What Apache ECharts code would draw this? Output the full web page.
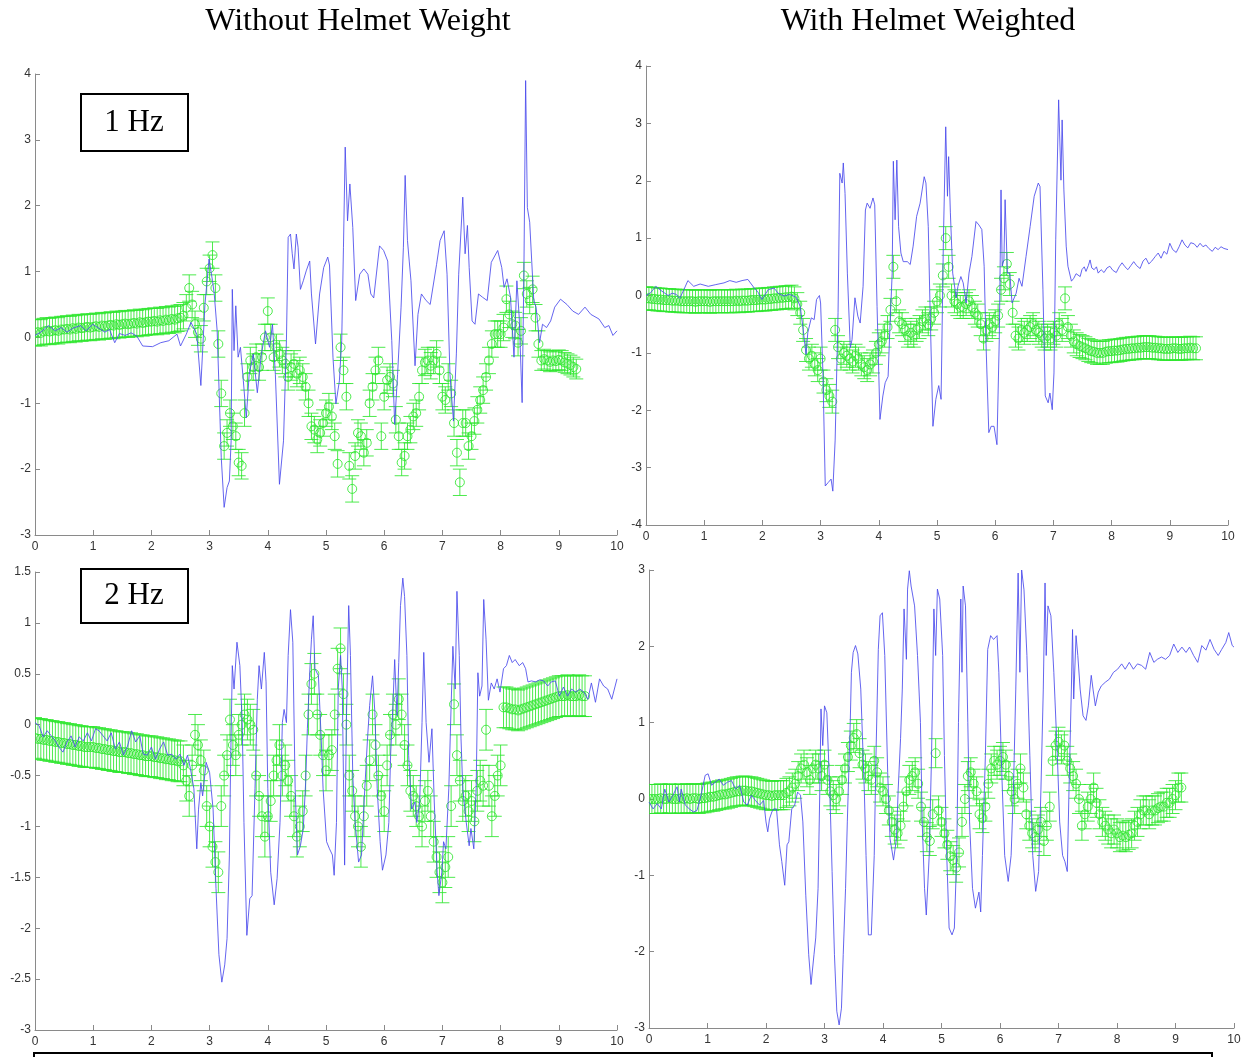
<!DOCTYPE html>
<html><head><meta charset="utf-8">
<script src="https://cdn.jsdelivr.net/npm/echarts@6/dist/echarts.min.js"></script>
<style>html,body{margin:0;padding:0;background:#fff}#c{width:1248px;height:1057px}</style>
</head><body><div id="c"></div>
<script>
// ---------- DATA ----------
const columnTitles = ['Without Helmet Weight', 'With Helmet Weighted'];
const rowLabels = ['1 Hz', '2 Hz'];
const xRange = [0, 10, 1];
const yRanges = [[-3, 4, 1], [-4, 4, 1], [-3, 1.5, 0.5], [-3, 3, 1]];
const greenStep = 0.05; // sampling interval of the mean/error-bar series (s)

// Panel 1: 1 Hz, without helmet weight
const p1Blue = [[0,0.03],[0.1,0.08],[0.23,0.18],[0.35,0.1],[0.45,0.15],[0.55,0.08],[0.65,0.14],[0.78,0.18],[0.88,0.1],[0.99,0.2],[1.08,0.15],[1.2,0.08],[1.28,0.12],[1.37,-0.08],[1.45,0.06],[1.55,0.03],[1.65,0.07],[1.75,0.02],[1.85,-0.13],[2.02,-0.14],[2.16,-0.08],[2.3,-0.05],[2.44,0.05],[2.5,-0.13],[2.6,0.05],[2.68,0.23],[2.78,0.05],[2.85,-0.73],[2.92,0.5],[2.99,1.19],[3.05,0.86],[3.08,0.66],[3.13,0.1],[3.2,-1.82],[3.25,-2.58],[3.3,-2.28],[3.34,-2.18],[3.37,-1.57],[3.39,0.73],[3.42,-0.2],[3.45,0.48],[3.49,-0.3],[3.53,-0.15],[3.58,-0.66],[3.63,-1.22],[3.68,-0.56],[3.75,-0.25],[3.82,-0.84],[3.89,-0.25],[3.96,0.1],[4.03,-0.15],[4.08,0.2],[4.13,-0.56],[4.2,-2.23],[4.27,-1.57],[4.32,-0.05],[4.35,1.52],[4.39,1.57],[4.42,1.27],[4.45,1.04],[4.49,1.57],[4.52,1.37],[4.56,0.73],[4.61,0.86],[4.66,1.01],[4.72,1.16],[4.75,0.66],[4.82,-0.1],[4.89,0.66],[4.96,1.06],[5.03,1.22],[5.06,1.1],[5.12,-0.3],[5.17,-1.01],[5.23,-0.66],[5.27,-0.05],[5.3,1.37],[5.33,2.89],[5.37,1.77],[5.41,2.33],[5.46,1.67],[5.51,0.56],[5.58,0.96],[5.65,1.04],[5.72,0.96],[5.77,0.66],[5.82,0.6],[5.92,1.39],[5.99,1.32],[6.06,1.16],[6.13,-0.05],[6.18,-1.32],[6.23,-0.56],[6.29,0.46],[6.33,1.37],[6.36,2.46],[6.4,1.47],[6.43,1.16],[6.46,0.86],[6.53,-0.43],[6.58,0.35],[6.64,0.66],[6.72,0.56],[6.79,0.5],[6.9,1.11],[6.96,1.47],[7.03,1.62],[7.08,0.96],[7.13,-0.56],[7.19,-1.27],[7.24,-0.25],[7.28,0.96],[7.35,2.13],[7.39,1.27],[7.43,1.7],[7.46,1.06],[7.51,0.25],[7.56,0.2],[7.62,0.66],[7.69,0.61],[7.77,0.56],[7.84,1.14],[7.95,1.32],[8.02,1.06],[8.06,0.76],[8.11,0.89],[8.17,0.61],[8.23,-0.3],[8.28,0.86],[8.32,0.3],[8.37,-0.99],[8.4,0.96],[8.43,3.9],[8.46,1.97],[8.5,1.75],[8.52,1.77],[8.57,0.56],[8.61,0.46],[8.67,-0.08],[8.72,0.2],[8.79,0.15],[8.86,0.25],[8.93,0.46],[9.03,0.58],[9.14,0.5],[9.24,0.4],[9.34,0.35],[9.45,0.46],[9.55,0.35],[9.69,0.28],[9.79,0.15],[9.86,0.18],[9.93,0.03],[10,0.1]];
const p1GreenMean = [0.07,0.08,0.07,0.09,0.10,0.09,0.10,0.11,0.10,0.12,
0.12,0.13,0.12,0.14,0.13,0.15,0.14,0.15,0.16,0.15,
0.16,0.17,0.16,0.18,0.17,0.18,0.19,0.18,0.20,0.19,
0.20,0.21,0.20,0.21,0.22,0.21,0.23,0.22,0.23,0.24,
0.24,0.25,0.24,0.26,0.25,0.27,0.26,0.28,0.27,0.29,
0.30,0.33,
0.45,0.75,0.5,0.2,0.08,-0.02,0.45,0.85,1.05,1.25,
0.75,-0.1,-0.85,-1.65,-1.45,-1.15,-1.35,-1.5,-1.9,-1.95,
-1.15,-0.6,-0.35,-0.45,-0.3,-0.45,-0.3,0.0,0.4,0.0,
-0.3,-0.15,-0.25,-0.35,-0.4,-0.6,-0.45,-0.4,-0.55,-0.5,
-0.6,-0.75,-1.0,-1.35,-1.4,-1.55,-1.45,-1.3,-1.15,-1.05,
-1.2,-1.5,-1.92,-0.15,-0.5,-0.9,-1.95,-2.3,-1.8,-1.45,
-1.5,-1.75,-1.6,-1.0,-0.75,-0.5,-0.35,-1.5,-0.9,-0.65,
-0.6,-0.7,-1.25,-1.5,-1.9,-1.8,-1.5,-1.4,-1.2,-1.15,
-0.9,-0.5,-0.38,-0.35,-0.43,-0.35,-0.25,-0.5,-0.9,-0.95,
-0.6,-0.85,-1.3,-1.75,-2.2,-1.3,-1.3,-1.65,-1.5,-1.27,
-1.1,-0.95,-0.8,-0.6,-0.35,-0.1,0.05,0.05,0.05,0.15,
0.58,0.35,0.2,0.18,-0.08,0.1,0.94,0.66,0.56,0.73,
0.3,-0.1,-0.35,-0.33,-0.35,-0.37,-0.35,-0.36,-0.34,-0.35,
-0.38,-0.4,-0.42,-0.45,-0.48];
const p1GreenErr = [[0, 0.2], [8.7, 0.15]];

// Panel 2: 1 Hz, with helmet weighted
const p2Blue = [[0,0.0],[0.08,0.05],[0.17,0.16],[0.24,0.1],[0.31,0.05],[0.38,0.0],[0.45,0.04],[0.52,0.02],[0.58,-0.05],[0.65,0.1],[0.72,0.26],[0.82,0.16],[0.93,0.2],[1.07,0.16],[1.2,0.19],[1.34,0.22],[1.44,0.26],[1.55,0.23],[1.65,0.26],[1.75,0.28],[1.86,0.13],[1.93,0.05],[1.99,-0.07],[2.1,0.1],[2.2,0.13],[2.27,0.04],[2.37,-0.01],[2.47,0.02],[2.58,-0.03],[2.65,-0.19],[2.7,-0.59],[2.75,-1.03],[2.78,-0.65],[2.84,-0.39],[2.89,-0.42],[2.93,-0.07],[2.98,0.0],[3.0,-0.13],[3.04,-1.35],[3.08,-3.32],[3.13,-3.26],[3.18,-3.2],[3.21,-3.41],[3.25,-2.52],[3.3,-0.3],[3.33,2.13],[3.37,1.96],[3.39,2.31],[3.42,1.78],[3.46,0.39],[3.51,-0.91],[3.54,-0.77],[3.59,-0.04],[3.64,-0.36],[3.68,-0.48],[3.73,0.16],[3.77,1.49],[3.8,1.61],[3.85,1.52],[3.9,1.7],[3.93,1.58],[3.97,-0.19],[4.02,-2.16],[4.07,-1.75],[4.11,-1.52],[4.16,-1.41],[4.19,-0.59],[4.23,0.39],[4.25,2.34],[4.28,1.32],[4.31,2.36],[4.34,1.2],[4.38,0.74],[4.42,0.59],[4.49,0.59],[4.54,0.54],[4.59,0.86],[4.65,1.38],[4.71,1.61],[4.78,2.07],[4.81,1.96],[4.85,1.2],[4.88,-0.19],[4.93,-2.28],[4.98,-1.81],[5.03,-1.57],[5.07,-1.81],[5.11,0.97],[5.15,2.94],[5.18,1.73],[5.2,2.42],[5.23,1.44],[5.27,0.39],[5.33,-0.04],[5.36,0.16],[5.41,0.33],[5.45,0.22],[5.5,-0.13],[5.55,0.39],[5.6,0.68],[5.67,1.29],[5.72,1.23],[5.77,1.15],[5.81,0.51],[5.84,-0.77],[5.89,-2.39],[5.93,-2.28],[5.98,-2.28],[6.03,-2.6],[6.07,-0.77],[6.1,1.84],[6.12,0.51],[6.15,0.62],[6.17,1.67],[6.21,0.39],[6.25,0.39],[6.29,-0.13],[6.36,0.04],[6.41,0.3],[6.46,0.16],[6.53,0.68],[6.6,1.2],[6.67,1.73],[6.74,1.96],[6.77,1.9],[6.82,0.1],[6.86,-1.75],[6.91,-1.87],[6.94,-1.7],[6.98,-1.99],[7.01,-1.35],[7.04,0.97],[7.09,3.41],[7.11,2.71],[7.13,2.01],[7.15,3.06],[7.18,1.84],[7.22,0.86],[7.25,0.51],[7.31,0.25],[7.35,0.3],[7.39,0.38],[7.42,0.4],[7.46,0.33],[7.49,0.45],[7.53,0.5],[7.56,0.42],[7.6,0.52],[7.63,0.62],[7.66,0.48],[7.7,0.45],[7.74,0.5],[7.77,0.39],[7.82,0.45],[7.87,0.4],[7.92,0.48],[7.97,0.51],[8.02,0.44],[8.08,0.4],[8.13,0.5],[8.18,0.57],[8.23,0.5],[8.28,0.45],[8.33,0.52],[8.38,0.59],[8.43,0.52],[8.49,0.47],[8.54,0.6],[8.59,0.65],[8.64,0.55],[8.69,0.6],[8.75,0.68],[8.8,0.74],[8.85,0.65],[8.9,0.77],[8.95,0.72],[9.0,0.91],[9.05,0.8],[9.11,0.75],[9.16,0.85],[9.21,0.97],[9.26,0.88],[9.31,0.83],[9.36,0.92],[9.42,0.9],[9.47,0.84],[9.52,0.91],[9.57,0.85],[9.62,0.88],[9.67,0.82],[9.73,0.77],[9.78,0.84],[9.83,0.8],[9.88,0.85],[9.93,0.82],[10,0.8]];
const p2GreenMean = [-0.05,-0.05,-0.06,-0.06,-0.07,-0.07,-0.08,-0.08,-0.08,-0.09,
-0.09,-0.09,-0.10,-0.10,-0.10,-0.10,-0.10,-0.11,-0.10,-0.10,
-0.10,-0.10,-0.11,-0.10,-0.10,-0.10,-0.10,-0.10,-0.10,-0.10,
-0.10,-0.09,-0.10,-0.09,-0.09,-0.09,-0.08,-0.08,-0.08,-0.07,
-0.07,-0.07,-0.06,-0.06,-0.05,-0.05,-0.04,-0.04,-0.03,-0.03,
-0.02,-0.05,
-0.15,-0.3,-0.6,-0.95,-1.1,-1.05,-1.2,-1.3,-1.1,-1.5,
-1.65,-1.75,-1.85,-0.6,-0.9,-1.1,-1.0,-1.05,-1.1,-1.15,
-1.05,-1.1,-1.2,-1.25,-1.3,-1.2,-1.15,-1.0,-0.85,-0.8,
-0.7,-0.55,-0.25,0.5,-0.1,-0.45,-0.5,-0.6,-0.7,-0.65,
-0.7,-0.6,-0.55,-0.45,-0.4,-0.5,-0.4,-0.3,-0.1,0.0,
0.35,1.0,0.5,0.0,-0.1,-0.15,-0.2,-0.2,-0.15,-0.1,
-0.2,-0.3,-0.35,-0.5,-0.75,-0.6,-0.5,-0.55,-0.45,-0.35,
0.1,0.3,0.55,0.2,-0.3,-0.7,-0.75,-0.6,-0.65,-0.6,
-0.55,-0.5,-0.6,-0.65,-0.7,-0.75,-0.7,-0.75,-0.65,-0.7,
-0.5,-0.6,-0.05,-0.55,-0.7,-0.8,-0.85,-0.88,-0.9,-0.92,
-0.95,-0.97,-0.98,-1.0,-1.0,-1.0,-0.98,-0.97,-0.97,-0.96,
-0.96,-0.95,-0.94,-0.93,-0.93,-0.92,-0.92,-0.91,-0.91,-0.9,
-0.9,-0.9,-0.91,-0.91,-0.92,-0.92,-0.93,-0.93,-0.93,-0.92,
-0.92,-0.93,-0.93,-0.92,-0.92,-0.91,-0.92,-0.92];
const p2GreenErr = [[0, 0.2]];

// Panel 3: 2 Hz, without helmet weight
const p3Blue = [[0,0.02],[0.07,-0.01],[0.14,-0.12],[0.21,-0.06],[0.28,-0.11],[0.35,-0.16],[0.41,-0.22],[0.48,-0.27],[0.55,-0.17],[0.62,-0.11],[0.69,-0.22],[0.76,-0.12],[0.83,-0.16],[0.9,-0.08],[0.97,-0.16],[1.04,-0.04],[1.1,-0.06],[1.17,-0.11],[1.24,-0.16],[1.31,-0.08],[1.38,-0.24],[1.45,-0.17],[1.52,-0.3],[1.59,-0.21],[1.66,-0.06],[1.73,-0.17],[1.8,-0.11],[1.86,-0.29],[1.93,-0.3],[2.0,-0.22],[2.07,-0.34],[2.14,-0.24],[2.21,-0.17],[2.28,-0.3],[2.35,-0.29],[2.42,-0.34],[2.49,-0.29],[2.56,-0.4],[2.62,-0.3],[2.67,-0.43],[2.73,-0.63],[2.78,-1.22],[2.81,-0.83],[2.85,-0.57],[2.88,-0.7],[2.94,-0.37],[3.0,-0.47],[3.06,-0.83],[3.11,-1.61],[3.16,-2.26],[3.21,-2.53],[3.26,-2.36],[3.3,-2.1],[3.34,-1.29],[3.36,-0.43],[3.39,0.58],[3.42,0.35],[3.47,0.81],[3.52,0.58],[3.56,0.02],[3.59,-0.96],[3.64,-2.07],[3.69,-1.71],[3.73,-1.68],[3.78,-0.63],[3.82,0.25],[3.85,0.58],[3.89,0.35],[3.94,0.71],[3.97,0.42],[4.0,-0.63],[4.05,-1.45],[4.11,-1.77],[4.16,-1.51],[4.21,-0.96],[4.25,0.02],[4.28,0.15],[4.32,0.02],[4.35,0.68],[4.39,1.13],[4.43,0.81],[4.47,-0.63],[4.51,-1.28],[4.56,-1.19],[4.61,-1.02],[4.65,-0.57],[4.68,-0.04],[4.72,0.51],[4.75,0.84],[4.78,1.07],[4.81,0.55],[4.87,0.48],[4.92,-0.17],[4.95,-0.63],[5.01,-1.15],[5.06,-1.22],[5.11,-1.28],[5.14,-1.48],[5.18,-0.96],[5.21,0.35],[5.25,0.68],[5.28,0.35],[5.32,-1.38],[5.35,0.02],[5.39,1.17],[5.42,0.68],[5.46,-0.5],[5.5,-0.96],[5.56,-1.35],[5.61,-1.28],[5.66,-0.7],[5.71,-0.17],[5.75,0.19],[5.8,0.48],[5.84,0.12],[5.88,-0.63],[5.93,-1.15],[5.97,-1.43],[6.03,-1.28],[6.08,-0.96],[6.11,-0.3],[6.15,0.19],[6.18,0.64],[6.22,0.09],[6.25,0.61],[6.28,1.17],[6.32,1.44],[6.35,1.26],[6.39,0.68],[6.42,-0.3],[6.47,-0.83],[6.53,-0.76],[6.56,-0.96],[6.61,-0.76],[6.65,0.02],[6.68,0.71],[6.72,0.02],[6.77,-0.37],[6.82,-0.04],[6.86,-0.76],[6.91,-1.45],[6.94,-1.68],[6.99,-1.45],[7.02,-1.15],[7.06,-1.22],[7.11,-0.63],[7.15,0.19],[7.18,0.77],[7.22,0.35],[7.25,1.31],[7.29,0.68],[7.32,-0.14],[7.35,-0.63],[7.41,-0.96],[7.46,-1.19],[7.49,-1.02],[7.54,-1.22],[7.58,-0.63],[7.61,0.51],[7.64,0.28],[7.68,0.38],[7.71,1.23],[7.75,0.84],[7.79,0.24],[7.84,0.41],[7.89,0.35],[7.94,0.45],[7.99,0.32],[8.05,0.55],[8.1,0.58],[8.15,0.68],[8.2,0.61],[8.25,0.64],[8.32,0.58],[8.38,0.61],[8.43,0.55],[8.47,0.42],[8.53,0.43],[8.6,0.42],[8.67,0.44],[8.74,0.43],[8.81,0.38],[8.87,0.42],[8.94,0.43],[9.01,0.28],[9.08,0.37],[9.15,0.28],[9.22,0.35],[9.29,0.32],[9.36,0.35],[9.43,0.32],[9.5,0.25],[9.56,0.41],[9.63,0.22],[9.7,0.45],[9.77,0.38],[9.84,0.35],[9.91,0.25],[10,0.45]];
const p3GreenMean = [-0.13,-0.14,-0.14,-0.15,-0.15,-0.16,-0.16,-0.17,-0.17,-0.18,
-0.18,-0.19,-0.19,-0.20,-0.20,-0.21,-0.21,-0.22,-0.22,-0.22,
-0.22,-0.23,-0.23,-0.24,-0.24,-0.25,-0.25,-0.26,-0.26,-0.27,
-0.27,-0.27,-0.28,-0.28,-0.29,-0.29,-0.30,-0.30,-0.31,-0.31,
-0.31,-0.32,-0.32,-0.33,-0.33,-0.34,-0.34,-0.35,-0.35,-0.36,
-0.36,-0.4,
-0.55,-0.7,-0.4,-0.1,-0.2,-0.35,-0.45,-0.8,-1.0,-1.2,
-1.35,-1.45,-0.8,-0.5,-0.3,0.05,-0.2,-0.3,-0.1,0.0,
0.1,0.05,0.0,-0.05,-0.5,-0.7,-0.9,-1.1,-0.9,-0.75,
-0.5,-0.35,-0.2,-0.5,-0.4,-0.55,-0.7,-0.9,-1.1,-1.0,
-0.85,-0.5,0.1,0.4,0.5,0.1,-0.1,-0.3,-0.45,-0.3,
-0.25,0.1,0.55,0.75,0.3,0.0,-0.5,-0.65,-0.9,-1.0,
-1.2,-0.9,-0.6,-0.35,0.1,-0.2,-0.5,-0.7,-0.85,-0.4,
-0.1,0.1,0.0,0.25,0.1,-0.2,-0.4,-0.65,-0.7,-0.8,
-0.9,-1.0,-0.75,-0.65,-0.9,-1.15,-1.3,-1.45,-1.55,-1.4,
-1.3,-0.8,0.2,-0.3,-0.55,-0.75,-0.7,-0.85,-0.75,-0.95,
-0.65,-0.55,-0.6,-0.05,-0.6,-0.9,-0.7,-0.5,-0.4,0.17,
0.17,0.16,0.15,0.15,0.14,0.15,0.16,0.17,0.18,0.19,
0.2,0.21,0.22,0.23,0.24,0.25,0.26,0.27,0.28,0.28,
0.28,0.29,0.28,0.28,0.28,0.29,0.28,0.28];
const p3GreenErr = [[0, 0.2]];

// Panel 4: 2 Hz, with helmet weighted
const p4Blue = [[0,-0.04],[0.07,-0.13],[0.14,-0.06],[0.21,-0.13],[0.27,0.13],[0.34,-0.04],[0.41,0.05],[0.48,0.16],[0.52,-0.04],[0.55,0.13],[0.62,-0.08],[0.69,-0.13],[0.76,-0.17],[0.82,-0.15],[0.89,0.05],[0.96,0.31],[1.01,0.33],[1.07,0.18],[1.13,0.22],[1.2,0.26],[1.27,0.18],[1.34,0.22],[1.41,0.24],[1.48,0.13],[1.55,0.18],[1.62,-0.04],[1.68,-0.08],[1.75,0.05],[1.82,-0.02],[1.89,-0.08],[1.96,-0.02],[2.0,-0.3],[2.03,-0.43],[2.06,-0.26],[2.1,-0.17],[2.13,-0.13],[2.18,-0.13],[2.23,-0.6],[2.27,-0.82],[2.32,-1.13],[2.36,-0.6],[2.39,-0.56],[2.44,-0.13],[2.49,-0.08],[2.54,0.09],[2.59,0.05],[2.63,-0.3],[2.68,-1.26],[2.73,-2.04],[2.77,-2.43],[2.82,-2.04],[2.85,-1.82],[2.89,-1.17],[2.92,0.13],[2.94,1.18],[2.97,0.7],[3.0,1.22],[3.04,1.13],[3.09,0.13],[3.13,-0.95],[3.17,-2.04],[3.21,-2.78],[3.25,-2.96],[3.29,-2.74],[3.32,-2.04],[3.36,-1.17],[3.39,-0.3],[3.44,1.0],[3.46,1.66],[3.49,1.92],[3.53,2.01],[3.57,1.9],[3.62,1.44],[3.68,0.13],[3.71,-0.74],[3.75,-1.78],[3.8,-1.78],[3.85,-0.74],[3.88,0.57],[3.92,1.96],[3.95,2.4],[3.99,2.44],[4.03,1.88],[4.08,0.35],[4.12,-0.52],[4.18,-0.8],[4.23,-0.52],[4.26,0.13],[4.3,0.79],[4.33,1.44],[4.36,2.49],[4.4,1.83],[4.42,2.75],[4.45,2.99],[4.48,2.79],[4.54,2.53],[4.59,1.88],[4.64,1.0],[4.67,-0.3],[4.71,-1.17],[4.74,-1.52],[4.79,-0.74],[4.83,0.57],[4.87,2.49],[4.9,1.88],[4.93,2.75],[4.97,2.62],[5.02,1.88],[5.05,0.57],[5.09,-0.74],[5.13,-1.69],[5.18,-1.78],[5.22,-1.69],[5.26,-0.74],[5.29,1.0],[5.33,2.62],[5.35,1.66],[5.37,2.79],[5.41,2.53],[5.45,1.0],[5.48,-0.3],[5.53,-1.17],[5.58,-1.43],[5.64,-1.22],[5.67,-1.48],[5.7,-0.74],[5.75,0.57],[5.79,1.96],[5.84,2.14],[5.89,2.09],[5.95,2.14],[5.98,1.66],[6.03,0.35],[6.08,-0.74],[6.14,-1.08],[6.19,-0.74],[6.23,0.13],[6.27,1.44],[6.31,2.96],[6.34,1.66],[6.37,3.0],[6.41,2.74],[6.46,1.88],[6.51,0.57],[6.56,-0.74],[6.61,-1.21],[6.66,-0.95],[6.7,0.13],[6.74,1.44],[6.77,2.83],[6.79,1.88],[6.82,2.53],[6.87,2.4],[6.92,1.66],[6.98,0.57],[7.02,-0.3],[7.07,-0.74],[7.11,-0.82],[7.15,-0.95],[7.18,0.13],[7.22,1.44],[7.24,2.22],[7.26,1.31],[7.3,2.14],[7.33,1.88],[7.37,1.44],[7.42,1.09],[7.47,1.03],[7.51,1.22],[7.56,1.62],[7.59,1.44],[7.63,1.22],[7.68,1.4],[7.73,1.48],[7.8,1.53],[7.87,1.57],[7.94,1.66],[8.01,1.7],[8.08,1.77],[8.14,1.7],[8.21,1.79],[8.28,1.7],[8.35,1.77],[8.42,1.75],[8.49,1.7],[8.56,1.92],[8.63,1.79],[8.69,1.83],[8.76,1.86],[8.83,1.83],[8.9,1.88],[8.97,2.03],[9.04,1.92],[9.11,1.99],[9.18,1.92],[9.24,1.99],[9.31,1.88],[9.38,1.79],[9.45,2.01],[9.52,1.95],[9.59,2.09],[9.66,1.96],[9.73,1.88],[9.79,1.96],[9.86,2.05],[9.91,2.18],[9.97,2.01],[10,1.99]];
const p4GreenMean = [0.0,0.0,0.0,0.0,0.01,0.0,0.0,0.01,0.0,0.0,
0.0,0.01,0.0,0.01,0.0,0.01,0.01,0.0,0.01,0.01,
0.02,0.03,0.03,0.04,0.05,0.06,0.06,0.07,0.08,0.09,
0.1,0.1,0.11,0.11,0.1,0.1,0.09,0.08,0.07,0.06,
0.05,0.05,0.04,0.05,0.05,0.05,
0.05,0.08,0.1,0.15,0.2,0.3,0.4,0.45,0.35,0.25,
0.4,0.45,0.4,0.3,0.45,0.25,0.1,0.05,0.0,0.1,
0.25,0.4,0.55,0.7,0.8,0.85,0.6,0.45,0.4,0.3,
0.25,0.5,0.35,0.15,0.1,0.0,-0.15,-0.3,-0.4,-0.45,
-0.35,-0.1,0.1,0.25,0.3,0.35,0.2,-0.1,-0.3,-0.5,
-0.55,-0.2,0.6,-0.15,-0.3,-0.45,-0.6,-0.75,-0.8,-0.9,
-0.7,-0.3,0.0,0.3,0.35,0.2,0.1,-0.2,-0.25,-0.1,
0.2,0.4,0.5,0.45,0.5,0.55,0.45,0.3,0.1,0.0,
0.2,0.4,0.15,-0.2,-0.35,-0.45,-0.5,-0.4,-0.3,-0.55,
-0.35,-0.1,0.5,0.7,0.75,0.65,0.7,0.5,0.4,0.3,
0.2,0.0,-0.35,-0.2,-0.1,0.0,0.15,-0.05,-0.2,-0.3,
-0.35,-0.4,-0.45,-0.4,-0.45,-0.5,-0.48,-0.5,-0.47,-0.45,
-0.35,-0.3,-0.2,-0.15,-0.15,-0.2,-0.15,-0.15,-0.12,-0.1,
-0.1,-0.05,-0.05,0.0,0.05,0.15,0.15];
const p4GreenErr = [[0, 0.19]];

// ---------- BUILD ----------
const BLUE = '#4a4aec';
const GREEN = '#2ee62e';

function greenData(mean, errSeg) {
  return mean.map((m, i) => {
    const t = Math.round(i * greenStep * 100) / 100;
    let e = errSeg[0][1];
    for (const s of errSeg) if (t >= s[0] - 1e-9) e = s[1];
    return [t, m, e];
  });
}

function renderErr(params, api) {
  const t = api.value(0), m = api.value(1), e = api.value(2);
  const top = api.coord([t, m + e]), bot = api.coord([t, m - e]), c = api.coord([t, m]);
  const hw = 7;
  const st = { stroke: GREEN, lineWidth: 1, fill: null, opacity: 0.85 };
  return { type: 'group', children: [
    { type: 'line', shape: { x1: top[0], y1: top[1], x2: bot[0], y2: bot[1] }, style: st },
    { type: 'line', shape: { x1: top[0] - hw, y1: top[1], x2: top[0] + hw, y2: top[1] }, style: st },
    { type: 'line', shape: { x1: bot[0] - hw, y1: bot[1], x2: bot[0] + hw, y2: bot[1] }, style: st },
    { type: 'circle', shape: { cx: c[0], cy: c[1], r: 4.5 }, style: { stroke: GREEN, lineWidth: 1, fill: null, opacity: 0.85 } }
  ]};
}

const grids = [
  { left: 35, top: 74, width: 582, height: 461 },
  { left: 646, top: 66, width: 582, height: 459 },
  { left: 35, top: 572, width: 582, height: 458 },
  { left: 649, top: 570, width: 585, height: 458 }
];
const blues = [p1Blue, p2Blue, p3Blue, p4Blue];
const greens = [greenData(p1GreenMean, p1GreenErr), greenData(p2GreenMean, p2GreenErr), greenData(p3GreenMean, p3GreenErr), greenData(p4GreenMean, p4GreenErr)];

const axisFont = "'Liberation Sans Narrow','Liberation Sans',Arial,sans-serif";
const axLine = { show: true, onZero: false, lineStyle: { color: '#8a8a8a', width: 1 } };
const axTick = { show: true, inside: true, length: 5, lineStyle: { color: '#8a8a8a' } };

const xAxis = grids.map((g, i) => ({
  type: 'value', gridIndex: i, min: xRange[0], max: xRange[1], interval: xRange[2],
  axisLine: axLine, axisTick: axTick, splitLine: { show: false },
  axisLabel: { color: '#333', fontSize: 12, fontFamily: axisFont, margin: 6 }
}));
const yAxis = grids.map((g, i) => ({
  type: 'value', gridIndex: i, min: yRanges[i][0], max: yRanges[i][1], interval: yRanges[i][2],
  axisLine: axLine, axisTick: axTick, splitLine: { show: false },
  axisLabel: { color: '#333', fontSize: 12, fontFamily: axisFont, margin: 4 }
}));

const series = [];
grids.forEach((g, i) => {
  series.push({ type: 'custom', xAxisIndex: i, yAxisIndex: i, renderItem: renderErr, data: greens[i], clip: true, z: 2, silent: true, animation: false });
  series.push({ type: 'line', xAxisIndex: i, yAxisIndex: i, data: blues[i], showSymbol: false, symbol: 'none', lineStyle: { color: BLUE, width: 1, opacity: 0.85 }, z: 3, silent: true, animation: false });
});

const serif = "'Liberation Serif','Times New Roman',serif";
const graphic = [
  { type: 'text', x: 358, y: 6, style: { text: columnTitles[0], font: '32px ' + serif, fill: '#000', textAlign: 'center' } },
  { type: 'text', x: 928, y: 6, style: { text: columnTitles[1], font: '32px ' + serif, fill: '#000', textAlign: 'center' } },
  { type: 'rect', shape: { x: 81, y: 94, width: 107, height: 57 }, style: { fill: '#fff', stroke: '#000', lineWidth: 2 }, z: 10 },
  { type: 'text', x: 134, y: 123, style: { text: rowLabels[0], font: '31px ' + serif, fill: '#000', textAlign: 'center', textVerticalAlign: 'middle' }, z: 11 },
  { type: 'rect', shape: { x: 81, y: 569, width: 107, height: 54 }, style: { fill: '#fff', stroke: '#000', lineWidth: 2 }, z: 10 },
  { type: 'text', x: 134, y: 596, style: { text: rowLabels[1], font: '31px ' + serif, fill: '#000', textAlign: 'center', textVerticalAlign: 'middle' }, z: 11 },
  { type: 'rect', shape: { x: 34, y: 1053, width: 1178, height: 40 }, style: { fill: null, stroke: '#000', lineWidth: 2 }, z: 10 }
];

const chart = echarts.init(document.getElementById('c'), null, { renderer: 'canvas' });
chart.setOption({ animation: false, backgroundColor: '#fff', grid: grids, xAxis, yAxis, series, graphic });
</script></body></html>
